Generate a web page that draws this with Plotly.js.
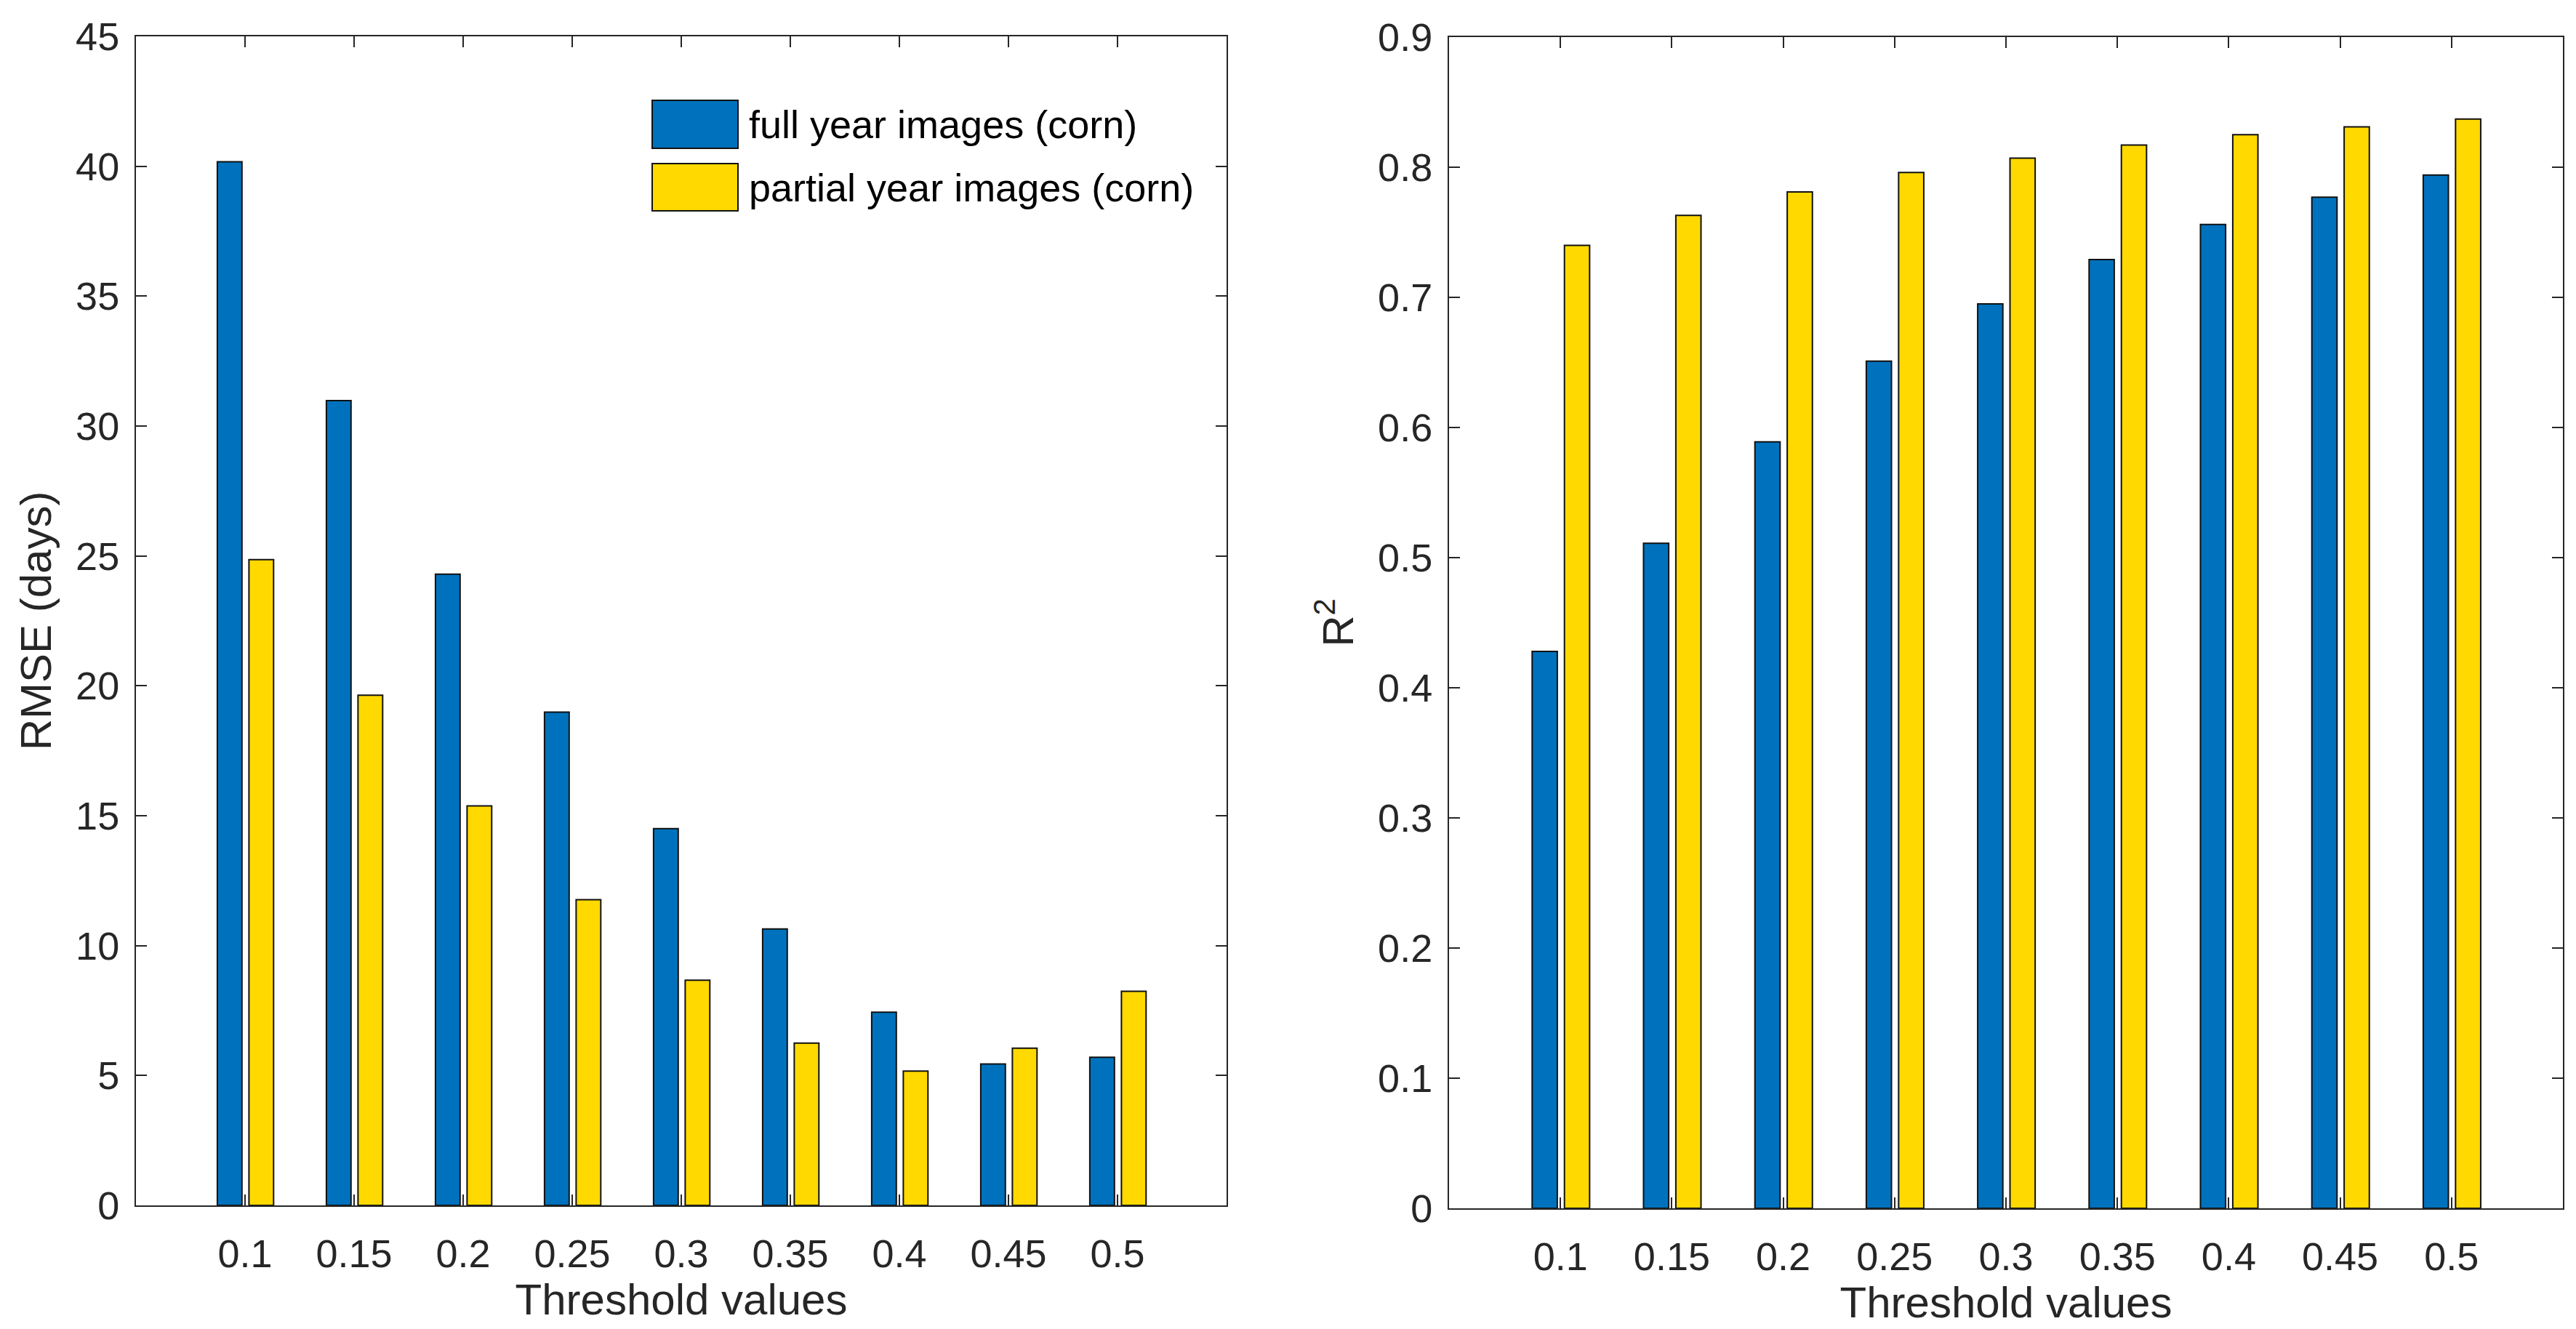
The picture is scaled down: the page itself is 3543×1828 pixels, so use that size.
<!DOCTYPE html>
<html>
<head>
<meta charset="utf-8">
<script src="https://cdn.plot.ly/plotly-3.0.1.min.js"></script>
<style>html,body{margin:0;padding:0;background:#fff;}#chart{width:3543px;height:1828px;}</style>
</head>
<body>
<div id="chart"></div>
<script>
// ---- data ----
const thresholds = ['0.1', '0.15', '0.2', '0.25', '0.3', '0.35', '0.4', '0.45', '0.5'];
const seriesNames = ['full year images (corn)', 'partial year images (corn)'];
const rmseFull    = [40.17, 30.98, 24.30, 18.99, 14.50, 10.64, 7.44, 5.44, 5.70];
const rmsePartial = [24.86, 19.64, 15.38, 11.77, 8.67, 6.25, 5.17, 6.05, 8.24];
const r2Full      = [0.428, 0.511, 0.589, 0.651, 0.695, 0.729, 0.756, 0.777, 0.794];
const r2Partial   = [0.740, 0.763, 0.781, 0.796, 0.807, 0.817, 0.825, 0.831, 0.837];
const rmseTickVals = [0, 5, 10, 15, 20, 25, 30, 35, 40, 45];
const r2TickVals   = [0, 0.1, 0.2, 0.3, 0.4, 0.5, 0.6, 0.7, 0.8, 0.9];
const r2TickText   = ['0', '0.1', '0.2', '0.3', '0.4', '0.5', '0.6', '0.7', '0.8', '0.9'];

// ---- styling ----
const W = 3543, H = 1828;
const BLUE = '#0072BD', YELLOW = '#FFD900', INK = '#262626';
const FONT = 'Liberation Sans, Arial, Helvetica, sans-serif';
const pos = thresholds.map((t, i) => i + 1);
const px = x => x / W;
const py = y => 1 - y / H;

function bars(y, color, name, offset, xa, ya) {
  return {
    type: 'bar', x: pos, y: y, name: name, xaxis: xa, yaxis: ya,
    width: 0.226, offset: offset,
    marker: {color: color, line: {color: '#111111', width: 2}},
    showlegend: false, hoverinfo: 'x+y'
  };
}

const data = [
  bars(rmseFull, BLUE, seriesNames[0], -0.254, 'x', 'y'),
  bars(rmsePartial, YELLOW, seriesNames[1], 0.036, 'x', 'y'),
  bars(r2Full, BLUE, seriesNames[0], -0.254, 'x2', 'y2'),
  bars(r2Partial, YELLOW, seriesNames[1], 0.036, 'x2', 'y2')
];

const axCommon = {
  showline: true, linecolor: INK, linewidth: 2, mirror: 'ticks',
  ticks: 'inside', ticklen: 15, tickwidth: 2, tickcolor: INK,
  showgrid: false, zeroline: false, automargin: false,
  tickfont: {family: FONT, size: 54, color: INK}
};
const titleFont = {family: FONT, size: 60, color: INK};

const layout = {
  width: W, height: H,
  margin: {l: 0, r: 0, t: 0, b: 0},
  paper_bgcolor: '#ffffff', plot_bgcolor: '#ffffff',
  barmode: 'overlay',
  showlegend: false,
  font: {family: FONT, color: INK},
  xaxis: Object.assign({}, axCommon, {
    domain: [px(187), px(1687)], anchor: 'y',
    range: [0, 10], tickvals: pos, ticktext: thresholds,
    ticklabelstandoff: 18,
    title: {text: 'Threshold values', font: titleFont, standoff: 12}
  }),
  yaxis: Object.assign({}, axCommon, {
    domain: [py(1658), py(50)], anchor: 'x',
    range: [0, 45], tickvals: rmseTickVals,
    ticklabelstandoff: 10,
    title: {text: 'RMSE (days)', font: titleFont, standoff: 14}
  }),
  xaxis2: Object.assign({}, axCommon, {
    domain: [px(1993), px(3525)], anchor: 'y2',
    range: [0, 10], tickvals: pos, ticktext: thresholds,
    ticklabelstandoff: 18,
    title: {text: 'Threshold values', font: titleFont, standoff: 12}
  }),
  yaxis2: Object.assign({}, axCommon, {
    domain: [py(1662), py(51)], anchor: 'x2',
    range: [0, 0.9], tickvals: r2TickVals, ticktext: r2TickText,
    ticklabelstandoff: 10,
    title: {text: 'R<sup>2</sup>', font: titleFont, standoff: 14}
  }),
  shapes: [
    {type: 'rect', xref: 'paper', yref: 'paper', x0: px(897), x1: px(1015), y0: py(204), y1: py(138),
     fillcolor: BLUE, line: {color: '#111111', width: 2}},
    {type: 'rect', xref: 'paper', yref: 'paper', x0: px(897), x1: px(1015), y0: py(290), y1: py(225),
     fillcolor: YELLOW, line: {color: '#111111', width: 2}}
  ],
  annotations: [
    {xref: 'paper', yref: 'paper', x: px(1028), y: py(171), xanchor: 'left', yanchor: 'middle',
     text: seriesNames[0], showarrow: false, font: {family: FONT, size: 54, color: '#000000'}},
    {xref: 'paper', yref: 'paper', x: px(1028), y: py(258), xanchor: 'left', yanchor: 'middle',
     text: seriesNames[1], showarrow: false, font: {family: FONT, size: 54, color: '#000000'}}
  ]
};

Plotly.newPlot('chart', data, layout, {staticPlot: true, displayModeBar: false});
</script>
</body>
</html>
